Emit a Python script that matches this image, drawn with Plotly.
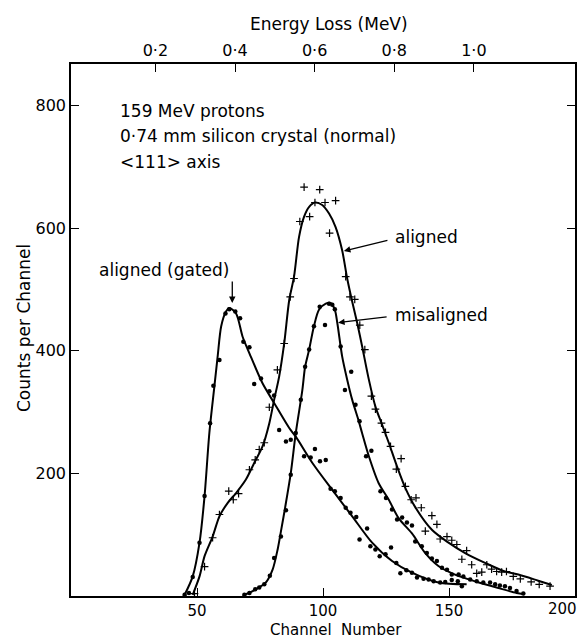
import plotly.graph_objects as go

# ---------------- data ----------------
# aligned (gated): smooth curve + dots
gated_curve_ch = [45.1, 48.3, 51.0, 53.0, 54.9, 56.9, 58.2, 59.6, 61.5, 62.8, 65.5, 68.1, 70.8,
                  76.0, 80.6, 86.6, 89.2, 95.8, 103.7, 111.6, 119.5, 127.4, 135.3, 145.8, 157.0]
gated_curve_counts = [2, 32, 87, 163, 266, 342, 391, 440, 464, 470, 461, 423, 396,
                      347, 315, 274, 260, 217, 173, 130, 87, 57, 38, 22, 19]
gated_pts_ch = [45.1, 46.8, 48.3, 51.0, 53.0, 55.2, 56.5, 58.9, 61.3, 62.8, 65.2, 67.1, 68.4,
                70.8, 72.7, 75.4, 78.7, 80.6, 82.6, 85.3, 87.2, 92.5, 95.1, 96.8, 98.8, 101.1,
                103.0, 104.7, 107.0, 109.0, 110.9, 113.2, 114.5, 117.5, 118.8, 120.8, 122.5,
                124.8, 127.0, 129.1, 130.7, 133.1, 135.3, 137.3, 139.9, 141.9, 143.9, 146.5,
                148.5, 151.1, 153.5, 155.1]
gated_pts_counts = [2, 5, 31, 87, 163, 282, 343, 385, 461, 468, 464, 453, 415,
                    406, 346, 355, 334, 327, 271, 252, 255, 228, 226, 240, 220, 222,
                    175, 171, 160, 144, 136, 129, 92, 110, 81, 76, 65,
                    68, 79, 54, 37, 42, 38, 30, 28, 27, 24, 22,
                    23, 26, 24, 16]

# aligned: smooth curve + crosses
aligned_curve_ch = [48.3, 51.0, 53.0, 56.2, 58.9, 62.2, 65.5, 69.4, 72.7, 76.0, 78.7, 80.6, 82.6,
                    84.6, 86.6, 88.5, 90.5, 92.5, 94.5, 96.8, 99.7, 102.4, 105.0, 107.6, 109.6,
                    111.6, 113.6, 115.5, 118.2, 120.8, 123.4, 126.1, 129.4, 132.7, 136.6, 143.2,
                    149.8, 156.4, 164.3, 172.2, 177.5, 185.4, 190.8]
aligned_curve_counts = [2, 32, 65, 97, 130, 152, 168, 190, 217, 244, 282, 320, 358,
                        412, 483, 521, 586, 619, 635, 642, 638, 624, 602, 564, 518,
                        480, 445, 408, 353, 309, 280, 250, 211, 176, 145, 108,
                        87, 70, 54, 40, 35, 25, 18]
aligned_pts_ch = [49.0, 53.0, 56.2, 58.9, 62.6, 64.4, 66.5, 70.8, 73.1, 74.7, 76.7, 78.7, 81.9,
                  84.6, 87.0, 88.5, 90.8, 92.5, 94.7, 96.8, 98.7, 100.8, 102.6, 105.0, 109.0,
                  110.7, 112.6, 114.6, 116.6, 119.2, 120.8, 123.2, 124.8, 126.8, 129.1, 131.0,
                  132.7, 135.0, 136.9, 139.0, 140.6, 143.2, 145.2, 146.5, 149.2, 151.1, 153.1,
                  155.1, 157.0, 159.0, 161.0, 163.0, 165.0, 166.9, 168.9, 170.9, 172.8, 175.5,
                  178.3, 182.6, 185.8, 190.1]
aligned_pts_counts = [4, 48, 95, 133, 171, 157, 167, 206, 222, 239, 250, 308, 369,
                      412, 488, 518, 611, 667, 619, 642, 663, 642, 592, 645, 521,
                      488, 484, 442, 402, 326, 305, 282, 267, 244, 207, 224,
                      179, 157, 160, 144, 106, 131, 117, 93, 97, 91, 84,
                      60, 74, 51, 37, 39, 51, 44, 40, 39, 40, 32,
                      28, 23, 19, 16]

# misaligned: smooth curve + dots
mis_curve_ch = [68.8, 73.4, 77.3, 80.0, 82.0, 83.5, 85.0, 87.2, 89.2, 91.8, 92.9, 94.5, 96.4,
                98.4, 101.1, 103.0, 104.7, 105.7, 107.6, 109.6, 111.6, 114.0, 115.5, 118.2,
                122.1, 126.1, 130.0, 135.3, 140.6, 145.8, 152.4, 160.3, 169.6, 176.8, 179.8]
mis_curve_counts = [2, 11, 22, 43, 76, 110, 145, 200, 266, 336, 374, 402, 440,
                    467, 477, 478, 467, 445, 391, 353, 320, 288, 266, 228,
                    184, 157, 127, 102, 70, 49, 35, 24, 13, 5, 3]
mis_pts_ch = [68.8, 70.8, 73.1, 74.7, 76.7, 78.9, 80.6, 83.3, 85.3, 87.2, 89.2, 91.2, 92.9,
              94.5, 96.4, 98.7, 100.8, 102.4, 103.7, 104.7, 107.0, 108.7, 111.2, 112.9, 114.5,
              117.1, 119.2, 122.8, 125.0, 127.4, 129.4, 131.4, 133.3, 135.3, 136.6, 139.2,
              141.2, 143.2, 145.2, 147.2, 149.2, 151.1, 153.8, 155.7, 158.4, 161.0, 163.6,
              166.3, 168.3, 170.2, 172.2, 174.2, 176.8, 179.5]
mis_pts_counts = [2, 5, 11, 14, 19, 33, 62, 97, 140, 198, 266, 320, 374,
                  402, 440, 472, 442, 477, 475, 468, 407, 336, 366, 312, 285,
                  228, 237, 171, 160, 141, 125, 128, 120, 115, 89, 81,
                  70, 61, 57, 46, 43, 35, 35, 32, 27, 24, 22,
                  22, 19, 17, 16, 13, 8, 4]

x_tick_vals = [50, 100, 150, 200]
x_tick_labels = ["50", "100", "150", "200"]
y_tick_vals = [200, 400, 600, 800]
energy_tick_vals = [0.2, 0.4, 0.6, 0.8, 1.0]
energy_tick_labels = ["0·2", "0·4", "0·6", "0·8", "1·0"]

FONT = "DejaVu Sans"
BLACK = "black"

fig = go.Figure()

line_style = dict(color=BLACK, width=2, shape="spline", smoothing=0.8)
dot_style = dict(symbol="circle", size=4.5, color=BLACK)
cross_style = dict(symbol="cross-thin", size=5.5, color=BLACK, line=dict(color=BLACK, width=1.2))

fig.add_trace(go.Scatter(x=gated_curve_ch, y=gated_curve_counts, mode="lines", line=line_style,
                         name="aligned (gated)", showlegend=False, hoverinfo="skip"))
fig.add_trace(go.Scatter(x=gated_pts_ch, y=gated_pts_counts, mode="markers", marker=dot_style,
                         name="aligned (gated) data", showlegend=False))
fig.add_trace(go.Scatter(x=aligned_curve_ch, y=aligned_curve_counts, mode="lines", line=line_style,
                         name="aligned", showlegend=False, hoverinfo="skip"))
fig.add_trace(go.Scatter(x=aligned_pts_ch, y=aligned_pts_counts, mode="markers", marker=cross_style,
                         name="aligned data", showlegend=False))
fig.add_trace(go.Scatter(x=mis_curve_ch, y=mis_curve_counts, mode="lines", line=line_style,
                         name="misaligned", showlegend=False, hoverinfo="skip"))
fig.add_trace(go.Scatter(x=mis_pts_ch, y=mis_pts_counts, mode="markers", marker=dot_style,
                         name="misaligned data", showlegend=False))
# empty trace to carry the top (energy) axis
fig.add_trace(go.Scatter(x=[None], y=[None], xaxis="x2", yaxis="y", mode="markers",
                         showlegend=False, hoverinfo="skip"))

axis_common = dict(showline=True, linecolor=BLACK, linewidth=1.5, ticks="inside", ticklen=8,
                   tickwidth=1.2, tickcolor=BLACK, showgrid=False, zeroline=False,
                   tickfont=dict(family=FONT, size=16, color=BLACK))
bottom_axis = dict(axis_common, tickfont=dict(family=FONT, size=15, color=BLACK))

fig.update_layout(
    width=581, height=640,
    margin=dict(l=71, r=4, t=64, b=44),
    paper_bgcolor="white", plot_bgcolor="white",
    font=dict(family=FONT, color=BLACK),
    xaxis=dict(range=[0, 200], tickvals=x_tick_vals,
               ticktext=x_tick_labels[:-1] + [""], ticklabelstandoff=0, **bottom_axis),
    xaxis2=dict(range=[-0.012, 1.254], overlaying="x", side="top", tickvals=energy_tick_vals,
                ticktext=energy_tick_labels, ticklabelstandoff=0, **axis_common),
    yaxis=dict(range=[0, 868], tickvals=y_tick_vals, mirror="ticks",
               ticklabelstandoff=0, **axis_common),
)

ann_font = dict(family=FONT, size=17, color=BLACK)
title_font = dict(family=FONT, size=17, color=BLACK)

# last bottom tick label placed so that it stays inside the page
fig.add_annotation(text=x_tick_labels[-1], x=1.0, y=0, xref="paper", yref="paper",
                   xanchor="right", yanchor="top", yshift=-2, xshift=4, showarrow=False,
                   font=dict(family=FONT, size=15, color=BLACK))

# axis titles
fig.add_annotation(text="Channel  Number", x=0.526, y=-0.0638, xref="paper", yref="paper",
                   showarrow=False, font=dict(family=FONT, size=15, color=BLACK),
                   xanchor="center", yanchor="middle")
fig.add_annotation(text="Energy Loss (MeV)", x=0.512, y=1.075, xref="paper", yref="paper",
                   showarrow=False, font=title_font, xanchor="center", yanchor="middle")
fig.add_annotation(text="Counts per Channel", x=-0.093, y=0.504, xref="paper", yref="paper",
                   showarrow=False, font=title_font, textangle=-90,
                   xanchor="center", yanchor="middle")

# descriptive text
for txt, yy in [("159 MeV protons", 792), ("0·74 mm silicon crystal (normal)", 751),
                ("&lt;111&gt; axis", 708)]:
    fig.add_annotation(text=txt, x=18.6, y=yy, xref="x", yref="y", showarrow=False,
                       xanchor="left", yanchor="middle", font=ann_font)

# curve labels
fig.add_annotation(text="aligned (gated)", x=10.2, y=532, xref="x", yref="y", showarrow=False,
                   xanchor="left", yanchor="middle", font=ann_font)
fig.add_annotation(text="aligned", x=127.7, y=586, xref="x", yref="y", showarrow=False,
                   xanchor="left", yanchor="middle", font=ann_font)
fig.add_annotation(text="misaligned", x=127.7, y=459, xref="x", yref="y", showarrow=False,
                   xanchor="left", yanchor="middle", font=ann_font)

# arrows
arrow = dict(xref="x", yref="y", showarrow=True, arrowhead=2, arrowsize=1, arrowwidth=1.3,
             arrowcolor=BLACK, text="", standoff=0)
fig.add_annotation(x=108.3, y=563, ax=45, ay=-11, **arrow)
fig.add_annotation(x=106.0, y=446, ax=50, ay=-6, **arrow)
fig.add_annotation(x=64.0, y=478, ax=0, ay=-23, **arrow)

fig.write_html("out.html")
